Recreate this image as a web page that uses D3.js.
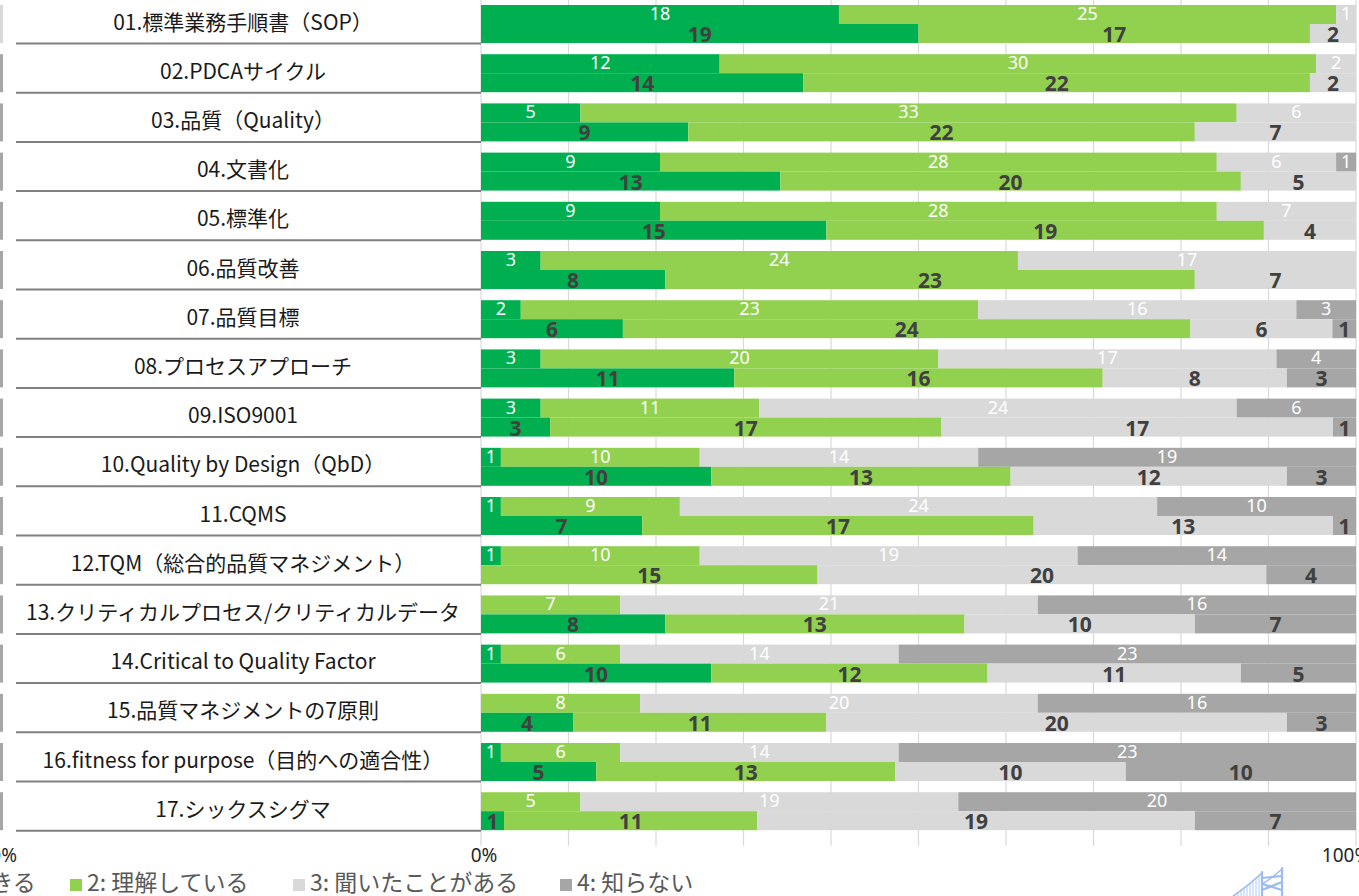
<!DOCTYPE html>
<html lang="ja">
<head>
<meta charset="utf-8">
<script src="https://cdn.jsdelivr.net/npm/d3@7"></script>
<style>
  html, body { margin: 0; padding: 0; background: #ffffff; }
  svg { display: block; }
</style>
</head>
<body>
<svg id="chart" width="1359" height="896"></svg>
<script>
// Survey items (one row each)
const categories = [
  "01.標準業務手順書（SOP）",
  "02.PDCAサイクル",
  "03.品質（Quality）",
  "04.文書化",
  "05.標準化",
  "06.品質改善",
  "07.品質目標",
  "08.プロセスアプローチ",
  "09.ISO9001",
  "10.Quality by Design（QbD）",
  "11.CQMS",
  "12.TQM（総合的品質マネジメント）",
  "13.クリティカルプロセス/クリティカルデータ",
  "14.Critical to Quality Factor",
  "15.品質マネジメントの7原則",
  "16.fitness for purpose（目的への適合性）",
  "17.シックスシグマ"
];

// Answer levels (stack order, left to right)
const levels = ["1: できる", "2: 理解している", "3: 聞いたことがある", "4: 知らない"];
const levelColors = ["#00B050", "#92D050", "#D9D9D9", "#A6A6A6"];

// Upper bar of each row: response counts per level
const upperCan        = [18, 12, 5, 9, 9, 3, 2, 3, 3, 1, 1, 1, 0, 1, 0, 1, 0];
const upperUnderstand = [25, 30, 33, 28, 28, 24, 23, 20, 11, 10, 9, 10, 7, 6, 8, 6, 5];
const upperHeard      = [1, 2, 6, 6, 7, 17, 16, 17, 24, 14, 24, 19, 21, 14, 20, 14, 19];
const upperUnknown    = [0, 0, 0, 1, 0, 0, 3, 4, 6, 19, 10, 14, 16, 23, 16, 23, 20];

// Lower bar of each row: response counts per level
const lowerCan        = [19, 14, 9, 13, 15, 8, 6, 11, 3, 10, 7, 0, 8, 10, 4, 5, 1];
const lowerUnderstand = [17, 22, 22, 20, 19, 23, 24, 16, 17, 13, 17, 15, 13, 12, 11, 13, 11];
const lowerHeard      = [2, 2, 7, 5, 4, 7, 6, 8, 17, 12, 13, 20, 10, 11, 20, 10, 19];
const lowerUnknown    = [0, 0, 0, 0, 0, 0, 1, 3, 1, 3, 1, 4, 7, 5, 3, 10, 7];

// Axis tick labels and gridline steps
const axisTicks = [0, 1];
const gridTicks = [0, 0.1, 0.2, 0.3, 0.4, 0.5, 0.6, 0.7, 0.8, 0.9, 1];

const svg = d3.select("#chart");
const JP = "'Noto Sans CJK JP', 'Noto Sans', sans-serif";
const NUM = "'Noto Sans', 'Noto Sans CJK JP', sans-serif";

const x = d3.scaleLinear().domain([0, 1]).range([481, 1356]);
const y = d3.scaleBand().domain(categories).range([5, 5 + 16 * 49.2 + 38]).paddingInner(0.228).paddingOuter(0);
const sub = d3.scaleBand().domain(["upper", "lower"]).range([0, y.bandwidth()]);

const upperSeries = [upperCan, upperUnderstand, upperHeard, upperUnknown];
const lowerSeries = [lowerCan, lowerUnderstand, lowerHeard, lowerUnknown];

// Build 100%-stacked segments for one bar
function segments(series, i, which) {
  const vals = series.map(s => s[i]);
  const total = d3.sum(vals);
  let acc = 0;
  return vals.map((v, k) => {
    const seg = { cat: categories[i], which, level: k, value: v, x0: acc / total, x1: (acc + v) / total };
    acc += v;
    return seg;
  });
}
const segs = [];
categories.forEach((c, i) => {
  segs.push(...segments(upperSeries, i, "upper"));
  segs.push(...segments(lowerSeries, i, "lower"));
});

// Edge of the neighbouring panel on the left
svg.append("g").selectAll("rect")
  .data(categories)
  .join("rect")
  .attr("x", 0).attr("width", 3)
  .attr("y", d => y(d)).attr("height", y.bandwidth())
  .attr("fill", (d, i) => i === 0 ? "#D9D9D9" : "#A6A6A6");

// Vertical gridlines
svg.append("g").selectAll("line")
  .data(gridTicks)
  .join("line")
  .attr("x1", d => x(d)).attr("x2", d => x(d))
  .attr("y1", 0).attr("y2", 846)
  .attr("stroke", "#D9D9D9").attr("stroke-width", 1.2);

// Bars
svg.append("g").selectAll("rect")
  .data(segs.filter(d => d.value > 0))
  .join("rect")
  .attr("x", d => x(d.x0))
  .attr("width", d => x(d.x1) - x(d.x0))
  .attr("y", d => y(d.cat) + sub(d.which))
  .attr("height", sub.bandwidth())
  .attr("fill", d => levelColors[d.level]);

// Value labels
svg.append("g").selectAll("text")
  .data(segs.filter(d => d.value > 0))
  .join("text")
  .attr("x", d => (x(d.x0) + x(d.x1)) / 2)
  .attr("y", d => y(d.cat) + sub(d.which) + sub.bandwidth() / 2 + (d.which === "upper" ? -1 : 1))
  .attr("dy", "0.36em")
  .attr("text-anchor", "middle")
  .attr("font-family", NUM)
  .attr("font-size", d => d.which === "upper" ? 18 : 21)
  .attr("font-weight", d => d.which === "upper" ? 400 : 700)
  .attr("fill", d => d.which === "upper" ? "#FFFFFF" : "#404040")
  .text(d => d.value);

// Row labels with underline
const rowLabels = svg.append("g");
rowLabels.selectAll("text")
  .data(categories)
  .join("text")
  .attr("x", 243)
  .attr("y", d => y(d) + y.bandwidth() / 2 - 2)
  .attr("dy", "0.36em")
  .attr("text-anchor", "middle")
  .attr("font-family", JP)
  .attr("font-size", 21)
  .attr("fill", "#1a1a1a")
  .text(d => d);
rowLabels.selectAll("line")
  .data(categories)
  .join("line")
  .attr("x1", 16).attr("x2", 481)
  .attr("y1", d => y(d) + y.bandwidth() + 0.5)
  .attr("y2", d => y(d) + y.bandwidth() + 0.5)
  .attr("stroke", "#808080").attr("stroke-width", 2);

// Percent axis labels
svg.append("g").selectAll("text")
  .data(axisTicks)
  .join("text")
  .attr("x", d => x(d) + (d === 1 ? -10 : 3))
  .attr("y", 862)
  .attr("text-anchor", "middle")
  .attr("font-family", NUM)
  .attr("font-size", 19)
  .attr("fill", "#262626")
  .text(d3.format(".0%"));

// Axis label of the neighbouring panel
svg.append("text")
  .attr("x", 17).attr("y", 862)
  .attr("text-anchor", "end")
  .attr("font-family", NUM).attr("font-size", 19).attr("fill", "#262626")
  .text(d3.format(".0%")(1));

// Legend (first entry runs off the left edge)
const legendX = [-74, 70, 293, 560];
const legend = svg.append("g");
const item = legend.selectAll("g")
  .data(levels)
  .join("g")
  .attr("transform", (d, i) => `translate(${legendX[i]},0)`);
item.append("rect")
  .attr("x", 0).attr("y", 879).attr("width", 12).attr("height", 12)
  .attr("fill", (d, i) => levelColors[i]);
item.append("text")
  .attr("x", 17).attr("y", 891)
  .attr("font-family", JP).attr("font-size", 23)
  .attr("fill", "#595959")
  .text(d => d);

// Bridge emblem
const emblem = svg.append("g")
  .attr("fill", "none").attr("stroke", "#9BBCF2").attr("stroke-width", 2.2)
  .attr("stroke-linecap", "round");
emblem.append("path").attr("d", "M1262,872 L1262,897 M1282,868 L1282,897 M1262,878 L1282,876 M1262,884 L1282,890 M1262,890 L1282,882");
emblem.append("path").attr("d", "M1262,873 Q1248,886 1232,897").attr("stroke-width", 1.6);
emblem.append("path").attr("d", "M1282,869 Q1270,880 1262,884").attr("stroke-width", 1.4);
emblem.append("path")
  .attr("d", d3.range(1238, 1262, 3).map(v => `M${v},${897 - (v - 1232) * 0.8} L${v},897`).join(" "))
  .attr("stroke-width", 0.8);
</script>
</body>
</html>
